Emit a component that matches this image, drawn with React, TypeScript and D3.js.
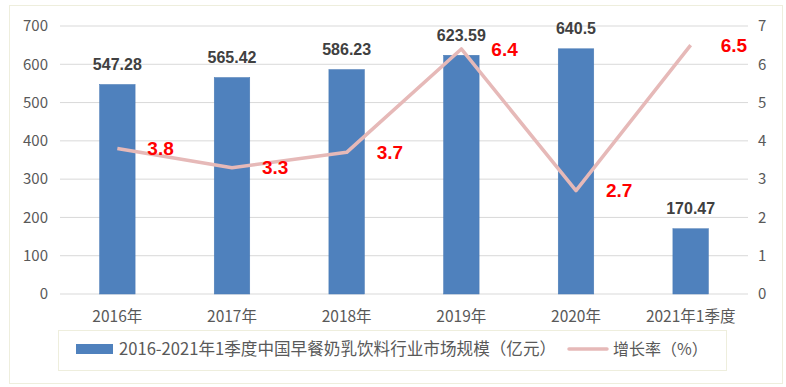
import React, { useEffect, useRef } from 'react';
import * as d3 from 'd3';

const categories = ['2016年', '2017年', '2018年', '2019年', '2020年', '2021年1季度'];
const marketSize = [547.28, 565.42, 586.23, 623.59, 640.5, 170.47];
const sizeLabels = ['547.28', '565.42', '586.23', '623.59', '640.5', '170.47'];
const growthRate = [3.8, 3.3, 3.7, 6.4, 2.7, 6.5];
const leftTicks = [0, 100, 200, 300, 400, 500, 600, 700];
const rightTicks = [0, 1, 2, 3, 4, 5, 6, 7];
const barName = '2016-2021年1季度中国早餐奶乳饮料行业市场规模（亿元）';
const lineName = '增长率（%）';

const App = () => {
  const ref = useRef<SVGSVGElement>(null);

  useEffect(() => {
    const svg = d3.select(ref.current);
    svg.selectAll('*').remove();

    const W = 786, H = 387;
    const left = 60, right = 748, top = 26, bottom = 294;
    const cjk = '"Noto Sans CJK SC", "Noto Sans", sans-serif';
    const sans = '"Liberation Sans", Arial, sans-serif';

    svg.attr('width', W).attr('height', H);

    // outer frame
    svg.append('rect')
      .attr('x', 9.5).attr('y', 5.5)
      .attr('width', 773).attr('height', 378)
      .attr('fill', '#fff')
      .attr('stroke', '#eeeedd');

    const x = d3.scaleBand().domain(categories).range([left, right]).paddingInner(0.69).paddingOuter(0.345);
    const yL = d3.scaleLinear().domain([0, 700]).range([bottom, top]);
    const yR = d3.scaleLinear().domain([0, 7]).range([bottom, top]);

    // gridlines
    svg.append('g').selectAll('line')
      .data(leftTicks)
      .enter().append('line')
      .attr('x1', left).attr('x2', right)
      .attr('y1', d => yL(d)).attr('y2', d => yL(d))
      .attr('stroke', '#d9d9d9')
      .attr('stroke-width', 1);

    // left axis labels
    svg.append('g').selectAll('text')
      .data(leftTicks)
      .enter().append('text')
      .attr('x', 48).attr('y', d => yL(d))
      .attr('dy', '0.35em')
      .attr('text-anchor', 'end')
      .style('font-family', cjk)
      .style('font-size', '15px')
      .attr('fill', '#595959')
      .text(d => d);

    // right axis labels
    svg.append('g').selectAll('text')
      .data(rightTicks)
      .enter().append('text')
      .attr('x', 758).attr('y', d => yR(d))
      .attr('dy', '0.35em')
      .style('font-family', cjk)
      .style('font-size', '15px')
      .attr('fill', '#595959')
      .text(d => d);

    // bars
    svg.append('g').selectAll('rect')
      .data(marketSize)
      .enter().append('rect')
      .attr('x', (d, i) => x(categories[i])!)
      .attr('y', d => yL(d))
      .attr('width', x.bandwidth())
      .attr('height', d => bottom - yL(d))
      .attr('fill', '#4f81bd')
      .attr('stroke', '#4a7ab4')
      .attr('stroke-width', 0.5);

    // bar value labels
    svg.append('g').selectAll('text')
      .data(marketSize)
      .enter().append('text')
      .attr('x', (d, i) => x(categories[i])! + x.bandwidth() / 2)
      .attr('y', d => yL(d) - 20)
      .attr('dy', '0.35em')
      .attr('text-anchor', 'middle')
      .style('font-family', sans)
      .style('font-size', '16px')
      .style('font-weight', 'bold')
      .attr('fill', '#404040')
      .text((d, i) => sizeLabels[i]);

    // x axis labels
    svg.append('g').selectAll('text')
      .data(categories)
      .enter().append('text')
      .attr('x', d => x(d)! + x.bandwidth() / 2)
      .attr('y', 317)
      .attr('dy', '0.35em')
      .attr('text-anchor', 'middle')
      .style('font-family', cjk)
      .style('font-size', '15.5px')
      .attr('fill', '#595959')
      .text(d => d);

    // growth line
    const line = d3.line<number>()
      .x((d, i) => x(categories[i])! + x.bandwidth() / 2)
      .y(d => yR(d));

    svg.append('path')
      .datum(growthRate)
      .attr('d', line)
      .attr('fill', 'none')
      .attr('stroke', '#e6b9b8')
      .attr('stroke-width', 3.5)
      .attr('stroke-linejoin', 'round');

    // growth labels
    svg.append('g').selectAll('text')
      .data(growthRate)
      .enter().append('text')
      .attr('x', (d, i) => x(categories[i])! + x.bandwidth() / 2 + 30)
      .attr('y', d => yR(d))
      .attr('dy', '0.35em')
      .style('font-family', sans)
      .style('font-size', '19px')
      .style('font-weight', 'bold')
      .attr('fill', '#ff0000')
      .text(d => d.toFixed(1));

    // legend
    const lg = svg.append('g');
    lg.append('rect')
      .attr('x', 58.5).attr('y', 330.5)
      .attr('width', 668).attr('height', 40)
      .attr('fill', '#fff')
      .attr('stroke', '#eeeedd');
    lg.append('rect')
      .attr('x', 76).attr('y', 344)
      .attr('width', 37).attr('height', 10)
      .attr('fill', '#4f81bd');
    lg.append('text')
      .attr('x', 119).attr('y', 349)
      .attr('dy', '0.35em')
      .style('font-family', cjk)
      .style('font-size', '16.6px')
      .attr('fill', '#595959')
      .text(barName);
    lg.append('line')
      .attr('x1', 569).attr('x2', 607)
      .attr('y1', 349).attr('y2', 349)
      .attr('stroke', '#e6b9b8')
      .attr('stroke-width', 3.5)
      .attr('stroke-linecap', 'round');
    lg.append('text')
      .attr('x', 613).attr('y', 349)
      .attr('dy', '0.35em')
      .style('font-family', cjk)
      .style('font-size', '16px')
      .attr('fill', '#595959')
      .text(lineName);
  }, []);

  return (
    <svg ref={ref} style={{ position: 'absolute', left: 0, top: 0, display: 'block' }} />
  );
};

export default App;
